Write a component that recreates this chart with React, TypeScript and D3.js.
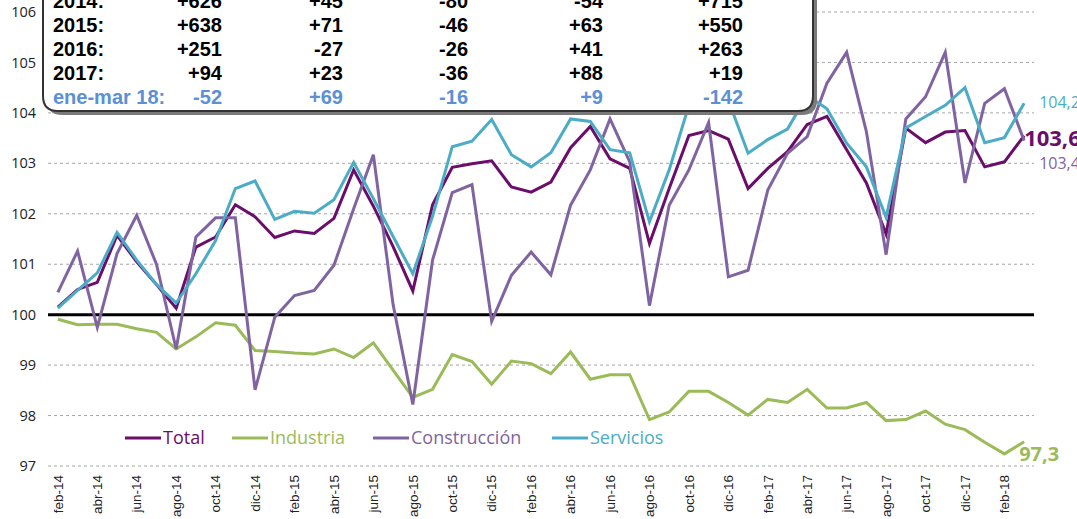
import React from "react";
import * as d3 from "d3";

const months = [
  "feb-14","mar-14","abr-14","may-14","jun-14","jul-14","ago-14","sep-14","oct-14","nov-14","dic-14",
  "ene-15","feb-15","mar-15","abr-15","may-15","jun-15","jul-15","ago-15","sep-15","oct-15","nov-15","dic-15",
  "ene-16","feb-16","mar-16","abr-16","may-16","jun-16","jul-16","ago-16","sep-16","oct-16","nov-16","dic-16",
  "ene-17","feb-17","mar-17","abr-17","may-17","jun-17","jul-17","ago-17","sep-17","oct-17","nov-17","dic-17",
  "ene-18","feb-18","mar-18",
];

const tickLabels = [
  "feb-14","abr-14","jun-14","ago-14","oct-14","dic-14","feb-15","abr-15","jun-15","ago-15","oct-15","dic-15",
  "feb-16","abr-16","jun-16","ago-16","oct-16","dic-16","feb-17","abr-17","jun-17","ago-17","oct-17","dic-17","feb-18",
];

const yTicks = [97, 98, 99, 100, 101, 102, 103, 104, 105, 106];

const total = [
  100.15, 100.5, 100.64, 101.57, 101.05, 100.6, 100.13, 101.34, 101.54, 102.18,
  101.94, 101.53, 101.66, 101.61, 101.91, 102.87, 102.15, 101.35, 100.47, 102.18,
  102.92, 102.99, 103.05, 102.53, 102.43, 102.63, 103.31, 103.73, 103.09, 102.9,
  101.41, 102.5, 103.55, 103.65, 103.48, 102.5, 102.9, 103.23, 103.77, 103.93,
  103.27, 102.61, 101.6, 103.7, 103.41, 103.62, 103.65, 102.93, 103.03, 103.55,
];

const industria = [
  99.91, 99.8, 99.81, 99.81, 99.72, 99.65, 99.32, 99.56, 99.84, 99.79,
  99.29, 99.27, 99.24, 99.22, 99.32, 99.15, 99.44, 98.9, 98.36, 98.52,
  99.21, 99.07, 98.62, 99.08, 99.03, 98.83, 99.26, 98.72, 98.81, 98.81,
  97.92, 98.07, 98.48, 98.48, 98.26, 98.01, 98.32, 98.26, 98.52, 98.15,
  98.15, 98.26, 97.9, 97.92, 98.09, 97.83, 97.72, 97.47, 97.24, 97.48,
];

const construccion = [
  100.44, 101.26, 99.75, 101.21, 101.97, 101.0, 99.32, 101.54, 101.92, 101.92,
  98.51, 99.95, 100.38, 100.48, 100.98, 102.1, 103.17, 100.2, 98.22, 101.08,
  102.42, 102.58, 99.87, 100.78, 101.24, 100.79, 102.17, 102.87, 103.88, 103.03,
  100.18, 102.17, 102.87, 103.81, 100.75, 100.88, 102.47, 103.2, 103.53, 104.59,
  105.2, 103.63, 101.19, 103.88, 104.32, 105.2, 102.61, 104.19, 104.48, 103.45,
];

const servicios = [
  100.13, 100.48, 100.83, 101.63, 101.08, 100.6, 100.23, 100.81, 101.47, 102.5,
  102.65, 101.89, 102.05, 102.01, 102.28, 103.02, 102.3, 101.55, 100.81, 101.95,
  103.33, 103.44, 103.87, 103.17, 102.93, 103.21, 103.88, 103.83, 103.27, 103.21,
  101.84, 102.87, 104.15, 104.35, 104.25, 103.2, 103.47, 103.68, 104.35, 104.08,
  103.4, 102.93, 101.93, 103.7, 103.93, 104.15, 104.5, 103.41, 103.51, 104.19,
];

const seriesNames = ["Total", "Industria", "Construcción", "Servicios"];
const seriesColors = ["#6b0d6b", "#9bbb59", "#8064a2", "#4bacc6"];
const seriesData = [total, industria, construccion, servicios];

const tableYears = ["2014:", "2015:", "2016:", "2017:", "ene-mar 18:"];
const tableCol1 = ["+626", "+638", "+251", "+94", "-52"];
const tableCol2 = ["+45", "+71", "-27", "+23", "+69"];
const tableCol3 = ["-80", "-46", "-26", "-36", "-16"];
const tableCol4 = ["-54", "+63", "+41", "+88", "+9"];
const tableCol5 = ["+715", "+550", "+263", "+19", "-142"];

const endLabels = ["103,6", "97,3", "103,4", "104,2"];

export default function App() {
  const W = 1077;
  const H = 519;
  const x = d3.scaleBand<string>().domain(months).range([48, 1034]);
  const cx = (m: string) => (x(m) as number) + x.bandwidth() / 2;
  const y = d3.scaleLinear().domain([97, 106]).range([466, 12]);

  const line = d3
    .line<number>()
    .x((_, i) => cx(months[i]))
    .y((d) => y(d));

  const last = months.length - 1;
  const lastX = cx(months[last]);

  const colRight = [222, 343, 468, 603, 743];
  const tableCols = [tableCol1, tableCol2, tableCol3, tableCol4, tableCol5];
  const rowBase = [8, 32, 56, 80, 104];
  const boxPath = "M43,-20 L43,96 Q43,111 58,111 L798,111 Q813,111 813,96 L813,-20 Z";

  const legendLineX = [125, 232, 373, 552];

  return (
    <svg width={W} height={H} style={{ position: "absolute", left: 0, top: 0, background: "#fff" }}>
      <rect x={0} y={0} width={W} height={H} fill="#fff" />
      {yTicks.map((t) =>
        t === 100 ? null : (
          <line key={t} x1={48} x2={1034} y1={y(t)} y2={y(t)} stroke="#a6a6a6" strokeWidth={1} strokeDasharray="3,3" />
        )
      )}
      {yTicks.map((t) => (
        <text key={"yl" + t} x={36} y={y(t)} dy="0.35em" textAnchor="end" fontFamily="'Open Sans', sans-serif" fontSize={14.5} fill="#222">
          {t}
        </text>
      ))}
      <line x1={48} x2={1034} y1={y(100)} y2={y(100)} stroke="#000" strokeWidth={3} />
      {tickLabels.map((m) => (
        <text
          key={m}
          transform={`translate(${cx(m)},475) rotate(-90)`}
          textAnchor="end"
          dy="0.35em"
          fontFamily="'Liberation Sans', Arial, sans-serif"
          fontSize={13.5}
          fill="#222"
        >
          {m}
        </text>
      ))}
      {seriesData.map((s, k) => (
        <path key={k} d={line(s) as string} fill="none" stroke={seriesColors[k]} strokeWidth={3} strokeLinejoin="miter" />
      ))}
      <text x={lastX} y={y(total[last]) + 3} dy="0.35em" fontFamily="'Open Sans', sans-serif" fontWeight="bold" fontSize={22} fill={seriesColors[0]}>
        {endLabels[0]}
      </text>
      <text x={lastX - 5} y={y(97.3) + 3} dy="0.35em" fontFamily="'Open Sans', sans-serif" fontWeight="bold" fontSize={20} fill={seriesColors[1]}>
        {endLabels[1]}
      </text>
      <text x={lastX + 15} y={y(construccion[last]) + 23} dy="0.35em" fontFamily="'Open Sans', sans-serif" fontSize={16} fill={seriesColors[2]}>
        {endLabels[2]}
      </text>
      <text x={lastX + 15} y={y(servicios[last]) - 1} dy="0.35em" fontFamily="'Open Sans', sans-serif" fontSize={16} fill={seriesColors[3]}>
        {endLabels[3]}
      </text>
      {seriesNames.map((n, k) => (
        <g key={n}>
          <line x1={legendLineX[k]} x2={legendLineX[k] + 36} y1={438} y2={438} stroke={seriesColors[k]} strokeWidth={3} />
          <text x={legendLineX[k] + 38} y={438} dy="0.35em" fontFamily="'Open Sans', sans-serif" fontSize={18} fill={seriesColors[k]}>
            {n}
          </text>
        </g>
      ))}
      <path d={boxPath} transform="translate(4,4)" fill="#7a7a7a" />
      <path d={boxPath} fill="#fff" stroke="#333" strokeWidth={2} />
      {tableYears.map((yr, r) => {
        const color = r === tableYears.length - 1 ? "#5b8fd6" : "#000";
        return (
          <g key={yr} fontFamily="'Liberation Sans Narrow', 'Arial Narrow', 'Liberation Sans', sans-serif" fontWeight="bold" fontSize={20} fill={color}>
            <text x={53} y={rowBase[r]}>{yr}</text>
            {tableCols.map((col, c) => (
              <text key={c} x={colRight[c]} y={rowBase[r]} textAnchor="end">
                {col[r]}
              </text>
            ))}
          </g>
        );
      })}
    </svg>
  );
}
